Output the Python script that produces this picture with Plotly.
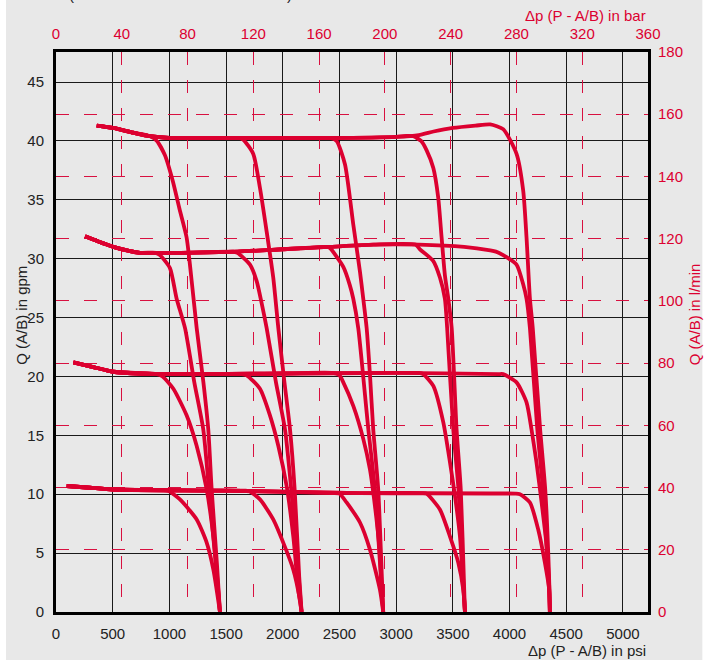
import plotly.graph_objects as go

# ---------------- data ----------------
psi_ticks = [0, 500, 1000, 1500, 2000, 2500, 3000, 3500, 4000, 4500, 5000]
gpm_ticks = [0, 5, 10, 15, 20, 25, 30, 35, 40, 45]
bar_ticks = [0, 40, 80, 120, 160, 200, 240, 280, 320, 360]
lmin_ticks = [0, 20, 40, 60, 80, 100, 120, 140, 160, 180]

# common flat (pressure-compensated) parts of each flow family
f40_psi = [359, 503, 682, 830, 1000, 1600, 2400, 3000, 3200, 3330, 3500, 3700, 3830]
f40_gpm = [41.3, 41.1, 40.7, 40.4, 40.25, 40.25, 40.25, 40.35, 40.5, 40.8, 41.1, 41.3, 41.4]
f30_psi = [256, 505, 741, 1100, 1600, 2000, 2400, 2800, 3200, 3600, 3830]
f30_gpm = [31.9, 31.0, 30.5, 30.5, 30.6, 30.8, 31.0, 31.2, 31.2, 31.0, 30.7]
f20_psi = [153, 329, 505, 917, 2000, 3000, 3900]
f20_gpm = [21.2, 20.8, 20.4, 20.2, 20.25, 20.3, 20.2]
f10_psi = [94, 300, 505, 1505, 2681, 4050]
f10_gpm = [10.7, 10.55, 10.4, 10.3, 10.1, 10.05]

# drop-off parts (knee -> zero flow) for settings 100/150/200/250/300 bar
d40_100_psi = [830, 890, 960, 1030, 1090, 1152, 1200, 1241, 1300, 1343, 1373, 1420, 1446]
d40_100_gpm = [40.4, 40.0, 38.8, 36.6, 34.2, 31.8, 27.8, 24.1, 19.5, 15.5, 10.4, 4.0, 0]
d30_100_psi = [880, 917, 1005, 1064, 1138, 1220, 1299, 1349, 1405, 1446]
d30_100_gpm = [30.5, 30.3, 29.2, 26.6, 24.1, 19.5, 15.5, 10.4, 4.5, 0]
d20_100_psi = [890, 940, 1035, 1152, 1241, 1329, 1388, 1431, 1446]
d20_100_gpm = [20.2, 20.0, 18.96, 16.7, 14.1, 10.4, 6.4, 1.9, 0]
d10_100_psi = [940, 990, 1093, 1241, 1329, 1388, 1446]
d10_100_gpm = [10.35, 10.3, 9.56, 7.86, 5.9, 3.6, 0]

d40_150_psi = [1610, 1652, 1740, 1799, 1858, 1916, 1961, 2015, 2064, 2105, 2145, 2166]
d40_150_gpm = [40.25, 40.1, 38.9, 36.0, 32.3, 28.4, 24.1, 19.5, 15.5, 10.4, 3.0, 0]
d30_150_psi = [1560, 1600, 1711, 1770, 1810, 1858, 1940, 2020, 2075, 2140, 2166]
d30_150_gpm = [30.6, 30.5, 29.5, 28.1, 26.4, 24.1, 19.5, 15.5, 10.4, 3.0, 0]
d20_150_psi = [1640, 1682, 1799, 1887, 1961, 2034, 2093, 2137, 2166]
d20_150_gpm = [20.2, 20.1, 18.96, 16.7, 14.1, 10.7, 6.4, 1.9, 0]
d10_150_psi = [1650, 1700, 1799, 1916, 2005, 2093, 2152, 2166]
d10_150_gpm = [10.3, 10.28, 9.56, 7.86, 5.87, 3.6, 1.0, 0]

d40_200_psi = [2420, 2475, 2549, 2622, 2681, 2710, 2740, 2770, 2798, 2842, 2878, 2886]
d40_200_gpm = [40.25, 40.0, 38.0, 32.9, 28.9, 26.6, 24.1, 20.0, 15.5, 10.4, 2.0, 0]
d30_200_psi = [2390, 2416, 2534, 2590, 2622, 2666, 2755, 2813, 2872, 2886]
d30_200_gpm = [31.0, 30.9, 29.3, 27.8, 26.6, 24.1, 15.5, 10.4, 2.0, 0]
d20_200_psi = [2440, 2500, 2534, 2622, 2710, 2769, 2813, 2851, 2872, 2886]
d20_200_gpm = [20.3, 20.1, 19.5, 17.5, 14.7, 12.1, 9.0, 5.6, 2.2, 0]
d10_200_psi = [2440, 2500, 2563, 2681, 2769, 2857, 2886]
d10_200_gpm = [10.1, 10.05, 9.3, 7.6, 5.3, 1.9, 0]

d40_250_psi = [3090, 3150, 3220, 3269, 3328, 3371, 3401, 3430, 3460, 3490, 3533, 3570, 3600, 3607]
d40_250_gpm = [40.42, 40.4, 40.0, 39.2, 37.7, 35.2, 31.8, 28.6, 26.6, 24.1, 15.5, 10.4, 2.0, 0]
d30_250_psi = [3170, 3210, 3328, 3386, 3430, 3450, 3504, 3550, 3595, 3607]
d30_250_gpm = [31.2, 30.8, 29.8, 28.4, 26.6, 24.1, 15.5, 10.4, 2.0, 0]
d20_250_psi = [3200, 3239, 3328, 3416, 3475, 3519, 3563, 3592, 3607]
d20_250_gpm = [20.3, 20.2, 19.2, 16.1, 12.7, 9.85, 6.4, 2.2, 0]
d10_250_psi = [3230, 3269, 3386, 3475, 3548, 3592, 3607]
d10_250_gpm = [10.1, 10.05, 8.7, 6.4, 4.2, 1.9, 0]

d40_300_psi = [3830, 3944, 4062, 4121, 4150, 4180, 4205, 4270, 4315, 4352, 4356]
d40_300_gpm = [41.4, 41.0, 38.9, 35.75, 31.8, 26.6, 24.1, 15.5, 10.4, 2.0, 0]
d30_300_psi = [3880, 3944, 4062, 4121, 4150, 4180, 4245, 4295, 4348, 4356]
d30_300_gpm = [30.6, 30.3, 29.5, 27.8, 26.6, 24.1, 15.5, 10.4, 2.0, 0]
d20_300_psi = [3900, 3944, 4062, 4150, 4194, 4238, 4283, 4327, 4350, 4356]
d20_300_gpm = [20.2, 20.2, 19.5, 17.8, 15.5, 12.7, 9.3, 5.6, 2.2, 0]
d10_300_psi = [4050, 4092, 4180, 4253, 4312, 4350, 4356]
d10_300_gpm = [10.05, 10.0, 9.3, 7.0, 4.2, 1.9, 0]

PSI_PER_BAR = 14.5038
GAL_L = 3.78541

RED = "#DC0030"
GRID_RED = "#D81040"
TXT = "#222222"
BG = "#E8E8E8"
FONT = "Liberation Sans, Arial, sans-serif"

families = [
    (f40_psi, f40_gpm, [(d40_100_psi, d40_100_gpm), (d40_150_psi, d40_150_gpm), (d40_200_psi, d40_200_gpm),
                        (d40_250_psi, d40_250_gpm), (d40_300_psi, d40_300_gpm)]),
    (f30_psi, f30_gpm, [(d30_100_psi, d30_100_gpm), (d30_150_psi, d30_150_gpm), (d30_200_psi, d30_200_gpm),
                        (d30_250_psi, d30_250_gpm), (d30_300_psi, d30_300_gpm)]),
    (f20_psi, f20_gpm, [(d20_100_psi, d20_100_gpm), (d20_150_psi, d20_150_gpm), (d20_200_psi, d20_200_gpm),
                        (d20_250_psi, d20_250_gpm), (d20_300_psi, d20_300_gpm)]),
    (f10_psi, f10_gpm, [(d10_100_psi, d10_100_gpm), (d10_150_psi, d10_150_gpm), (d10_200_psi, d10_200_gpm),
                        (d10_250_psi, d10_250_gpm), (d10_300_psi, d10_300_gpm)]),
]

fig = go.Figure()
for fp, fg, drops in families:
    for dp, dg in drops:
        xs = [p for p in fp if p < dp[0]] + list(dp)
        ys = [g for p, g in zip(fp, fg) if p < dp[0]] + list(dg)
        fig.add_trace(go.Scatter(x=xs, y=ys, mode="lines",
                                 line=dict(color=RED, width=3.8, shape="spline", smoothing=0.6),
                                 hoverinfo="skip", showlegend=False))

# register the secondary (bar / l/min) axes
fig.add_trace(go.Scatter(x=[None], y=[None], xaxis="x2", yaxis="y2", mode="lines",
                         showlegend=False, hoverinfo="skip"))

common = dict(zeroline=False, showgrid=True, gridwidth=1.3, ticks="outside", ticklen=6,
              tickcolor="rgba(0,0,0,0)", automargin=False)

fig.update_layout(
    width=711, height=660,
    margin=dict(l=56, r=63, t=52, b=48, autoexpand=False),
    paper_bgcolor="white", plot_bgcolor="rgba(0,0,0,0)",
    font=dict(family=FONT, size=15, color=TXT),
    showlegend=False,
    xaxis=dict(range=[0, 360 * PSI_PER_BAR], tickvals=psi_ticks, ticktext=[str(v) for v in psi_ticks],
               gridcolor="#1A1A1A", showline=True, linecolor="black", linewidth=3, mirror=True,
               tickfont=dict(size=15, color=TXT), **common),
    yaxis=dict(range=[0, 180 / GAL_L], tickvals=gpm_ticks, ticktext=[str(v) for v in gpm_ticks],
               gridcolor="#1A1A1A", showline=True, linecolor="black", linewidth=3, mirror=True,
               tickfont=dict(size=15, color=TXT), **common),
    xaxis2=dict(range=[0, 360], tickvals=bar_ticks, ticktext=[str(v) for v in bar_ticks],
                overlaying="x", side="top", anchor="y2", gridcolor=GRID_RED, griddash="13px,15px",
                showline=False, tickfont=dict(size=15, color=RED), **common),
    yaxis2=dict(range=[0, 180], tickvals=lmin_ticks, ticktext=[str(v) for v in lmin_ticks],
                overlaying="y", side="right", anchor="x2", gridcolor=GRID_RED, griddash="13px,15px",
                showline=False, tickfont=dict(size=15, color=RED), **common),
    shapes=[dict(type="rect", xref="paper", yref="paper", x0=-0.0845, x1=1.0918, y0=-0.09, y1=1.1,
                 fillcolor=BG, line=dict(width=0), layer="below")],
    annotations=[
        dict(text="Δp (P - A/B) in bar", xref="paper", yref="paper", x=1.0, y=1.0643,
             xanchor="right", yanchor="middle", showarrow=False, font=dict(size=15, color=RED)),
        dict(text="Δp (P - A/B) in psi", xref="paper", yref="paper", x=1.0, y=-0.0679,
             xanchor="right", yanchor="middle", showarrow=False, font=dict(size=15, color=TXT)),
        dict(text="Q (A/B) in gpm", xref="paper", yref="paper", x=-0.058, y=0.53, textangle=-90,
             xanchor="center", yanchor="middle", showarrow=False, font=dict(size=15, color=TXT)),
        dict(text="Q (A/B) in l/min", xref="paper", yref="paper", x=1.0782, y=0.532, textangle=-90,
             xanchor="center", yanchor="middle", showarrow=False, font=dict(size=15, color=RED)),
        dict(text="(", xref="paper", yref="paper", x=0.026, y=1.1018, xanchor="center",
             yanchor="middle", showarrow=False, font=dict(size=15, color=TXT)),
        dict(text=")", xref="paper", yref="paper", x=0.395, y=1.1018, xanchor="center",
             yanchor="middle", showarrow=False, font=dict(size=15, color=TXT)),
    ],
)

fig.write_html("out.html", config={"displayModeBar": False},
               post_script="document.body.style.margin='0px';")
